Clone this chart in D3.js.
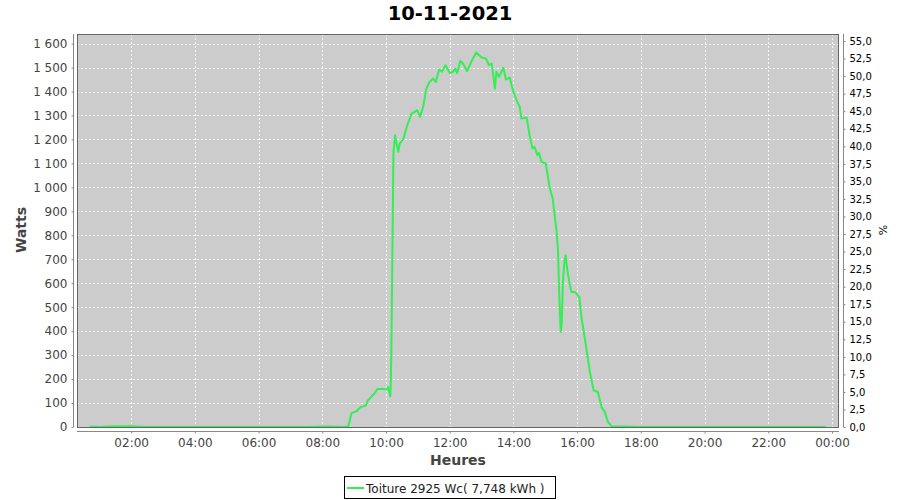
<!DOCTYPE html>
<html>
<head>
<meta charset="utf-8">
<script src="https://cdn.jsdelivr.net/npm/d3@7"></script>
<style>
  html, body { margin: 0; padding: 0; background: #ffffff; }
  svg { display: block; font-family: "DejaVu Sans", sans-serif; }
</style>
</head>
<body>
<svg id="chart" width="900" height="500"></svg>
<script>
// ---- Data ----
const title = "10-11-2021";
const seriesName = "Toiture 2925 Wc( 7,748 kWh )";
const times = ["00:42","01:00","01:30","01:55","02:30","03:30","04:30","05:30","06:30","07:30","08:10","08:40",
  "08:49","08:55","09:04","09:12","09:22","09:26","09:33","09:38","09:44","09:55","10:01","10:04","10:08","10:09",
  "10:10","10:12","10:14","10:17","10:23","10:26","10:33","10:39","10:48","10:59","11:04","11:10","11:16","11:22",
  "11:29","11:34","11:40","11:45","11:52","12:00","12:06","12:10","12:14","12:20","12:25","12:33","12:41","12:50",
  "13:00","13:08","13:14","13:19","13:22","13:25","13:28","13:33","13:41","13:46","13:53","13:59","14:06","14:12",
  "14:15","14:25","14:31","14:36","14:40","14:45","14:48","14:53","15:01","15:08","15:14","15:21","15:24","15:26",
  "15:29","15:31","15:33","15:36","15:38","15:43","15:49","15:56","16:04","16:08","16:16","16:24","16:31","16:39",
  "16:46","16:52","16:58","17:05","18:00","20:00","22:00","23:48"];
const watts = [2,0,3,3,0,0,0,0,0,0,2,0,
  2,58,65,83,90,111,128,139,159,159,156,167,128,181,
  307,725,1142,1217,1148,1183,1204,1252,1308,1322,1294,1336,1412,1440,
  1454,1440,1492,1482,1510,1477,1482,1496,1477,1528,1517,1485,1526,1563,
  1542,1538,1510,1517,1468,1412,1482,1461,1499,1450,1458,1405,1363,1336,
  1287,1291,1210,1162,1169,1134,1144,1106,1099,1002,953,821,737,570,
  397,432,598,689,717,633,563,563,543,459,348,230,153,146,
  83,63,21,3,0,0,0,0];
const hourTicks = [2,4,6,8,10,12,14,16,18,20,22,24];
const wattTicks = [0,100,200,300,400,500,600,700,800,900,1000,1100,1200,1300,1400,1500,1600];
const pctTicks = [0,2.5,5,7.5,10,12.5,15,17.5,20,22.5,25,27.5,30,32.5,35,37.5,40,42.5,45,47.5,50,52.5,55];

// ---- Layout ----
const plot = { left: 77, right: 839, top: 34, bottom: 427 };
const svg = d3.select("#chart");

const x = d3.scaleLinear().domain([0.30, 24.22]).range([plot.left, plot.right]);
const y = d3.scaleLinear().domain([0, 1640]).range([plot.bottom, plot.top]);
const yR = d3.scaleLinear().domain([0, 56.0]).range([plot.bottom, plot.top]);

const fr = d3.formatLocale({ decimal: ",", thousands: "\u00a0", grouping: [3], currency: ["", ""] });
const fmtW = fr.format(",d");
const fmtP = fr.format(".1f");
const pad = n => String(n).padStart(2, "0");
const fmtH = h => pad(h % 24) + ":00";

const data = times.map((t, i) => {
  const [hh, mm] = t.split(":").map(Number);
  return { h: hh + mm / 60, v: watts[i] };
});

// Title
svg.append("text").attr("x", 450).attr("y", 20).attr("text-anchor", "middle")
  .attr("font-size", 19.5).attr("font-weight", "bold").attr("fill", "#000").text(title);

// Plot background
svg.append("rect").attr("x", plot.left).attr("y", plot.top)
  .attr("width", plot.right - plot.left).attr("height", plot.bottom - plot.top)
  .attr("fill", "#cccccc");

// Grid
const grid = svg.append("g").attr("stroke", "#f4f4f4").attr("stroke-width", 1).attr("stroke-dasharray", "2,2");
grid.selectAll("line.h").data(wattTicks).join("line")
  .attr("x1", plot.left).attr("x2", plot.right)
  .attr("y1", d => Math.round(y(d)) + 0.5).attr("y2", d => Math.round(y(d)) + 0.5);
grid.selectAll("line.v").data(hourTicks).join("line")
  .attr("y1", plot.top).attr("y2", plot.bottom)
  .attr("x1", d => Math.round(x(d)) + 0.5).attr("x2", d => Math.round(x(d)) + 0.5);

// Series line
svg.append("path").datum(data)
  .attr("fill", "none").attr("stroke", "#33ee55").attr("stroke-width", 2).attr("stroke-linejoin", "round")
  .attr("d", d3.line().x(d => x(d.h)).y(d => y(d.v)));

// Plot border
svg.append("rect").attr("x", plot.left + 0.5).attr("y", plot.top + 0.5)
  .attr("width", plot.right - plot.left - 1).attr("height", plot.bottom - plot.top)
  .attr("fill", "none").attr("stroke", "#666666").attr("stroke-width", 1);

// Left axis
const gL = svg.append("g").attr("transform", `translate(${73.5},0)`)
  .call(d3.axisLeft(y).tickValues(wattTicks).tickFormat(fmtW).tickSize(2).tickSizeOuter(0).tickPadding(4));
gL.select(".domain").attr("stroke", "#888").attr("d", `M0,${plot.top}V${plot.bottom}`);
gL.selectAll(".tick line").attr("stroke", "#888");
gL.selectAll(".tick text").attr("font-size", 12).attr("fill", "#444").attr("font-family", "DejaVu Sans");

// Right axis
const gR = svg.append("g").attr("transform", `translate(${843.5},0)`)
  .call(d3.axisRight(yR).tickValues(pctTicks).tickFormat(fmtP).tickSize(2).tickSizeOuter(0).tickPadding(4));
gR.select(".domain").attr("stroke", "#888").attr("d", `M0,${plot.top}V${plot.bottom}`);
gR.selectAll(".tick line").attr("stroke", "#888");
gR.selectAll(".tick text").attr("font-size", 10).attr("fill", "#000").attr("font-family", "DejaVu Sans");

// Bottom axis
const gB = svg.append("g").attr("transform", `translate(0,${431.5})`)
  .call(d3.axisBottom(x).tickValues(hourTicks).tickFormat(fmtH).tickSize(2).tickSizeOuter(0).tickPadding(5));
gB.select(".domain").attr("stroke", "#888").attr("d", `M${plot.left},0H${plot.right}`);
gB.selectAll(".tick line").attr("stroke", "#888");
gB.selectAll(".tick text").attr("font-size", 12).attr("fill", "#444").attr("font-family", "DejaVu Sans");

// Axis titles
svg.append("text").attr("transform", "translate(26,230) rotate(-90)").attr("text-anchor", "middle")
  .attr("font-size", 14).attr("font-weight", "bold").attr("fill", "#444").text("Watts");
svg.append("text").attr("x", 458).attr("y", 465).attr("text-anchor", "middle")
  .attr("font-size", 14).attr("font-weight", "bold").attr("fill", "#444").text("Heures");
svg.append("text").attr("transform", "translate(887,230) rotate(-90)").attr("text-anchor", "middle")
  .attr("font-size", 11).attr("fill", "#000").text("%");

// Legend
const lg = svg.append("g");
lg.append("rect").attr("x", 344.5).attr("y", 476.5).attr("width", 211).attr("height", 22)
  .attr("fill", "#fff").attr("stroke", "#000").attr("stroke-width", 1);
lg.append("line").attr("x1", 347).attr("x2", 364).attr("y1", 488).attr("y2", 488)
  .attr("stroke", "#33ee55").attr("stroke-width", 2);
lg.append("text").attr("x", 366).attr("y", 492.5).attr("font-size", 12).attr("fill", "#222").text(seriesName);
</script>
</body>
</html>
